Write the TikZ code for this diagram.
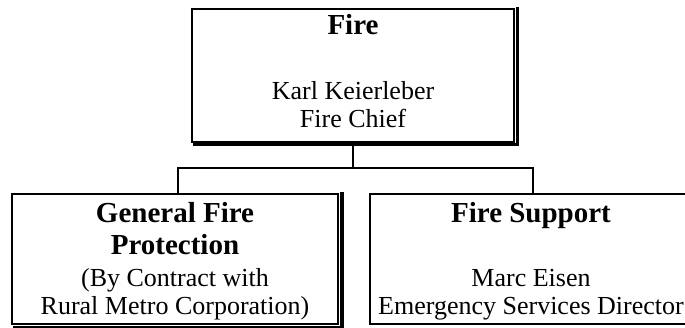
\documentclass[tikz,border=0pt]{standalone}
\usepackage{fontspec}
\setmainfont{Liberation Serif}
\begin{document}
\begin{tikzpicture}[x=1pt,y=-1pt,
  unitbox/.style={draw=black,line width=1.2pt,rectangle,inner sep=0pt},
  shadowline/.style={line width=3.6pt,line cap=rect},
  link/.style={draw=black,line width=1.4pt},
  titletext/.style={anchor=base,inner sep=0pt,align=center,font=\fontsize{29}{32}\selectfont\bfseries},
  bodytext/.style={anchor=base,inner sep=0pt,align=center,font=\fontsize{26}{28}\selectfont}]
\clip (0,0) rectangle (685,328);
\fill[white] (0,0) rectangle (685,328);

% boxes
\node[unitbox,minimum width=322pt,minimum height=133pt] (fire) at (353,75.5) {};
\node[unitbox,minimum width=326pt,minimum height=130pt] (general) at (175,259) {};
\node[unitbox,minimum width=322pt,minimum height=130pt] (support) at (531,259) {};

% drop shadows along right and bottom edges
\draw[shadowline] ([xshift=3pt]fire.north east) -- ([shift={(3pt,-2pt)}]fire.south east) -- ([shift={(3pt,-2pt)}]fire.south west);
\draw[shadowline] ([xshift=3.5pt]general.north east) -- ([shift={(3.5pt,-3pt)}]general.south east) -- ([shift={(3.5pt,-3pt)}]general.south west);

% connectors
\coordinate (bus) at (353,168);
\draw[link] (fire.south) -- (bus);
\draw[link] (bus) -| ([xshift=3pt]general.north);
\draw[link] (bus) -| ([xshift=2pt]support.north);

% texts (base anchor sits on the last line of each block)
\node[titletext] (t1) at (353,35) {Fire};
\node[bodytext] (b1) at (353,128) {Karl Keierleber\\Fire Chief};

\node[titletext] (t2) at (175,255) {General Fire\\Protection};
\node[bodytext] (b2) at (175,315) {(By Contract with\\Rural Metro Corporation)};

\node[titletext] (t3) at (531,223) {Fire Support};
\node[bodytext] (b3) at (531,315) {Marc Eisen\\Emergency Services Director};
\end{tikzpicture}
\end{document}
